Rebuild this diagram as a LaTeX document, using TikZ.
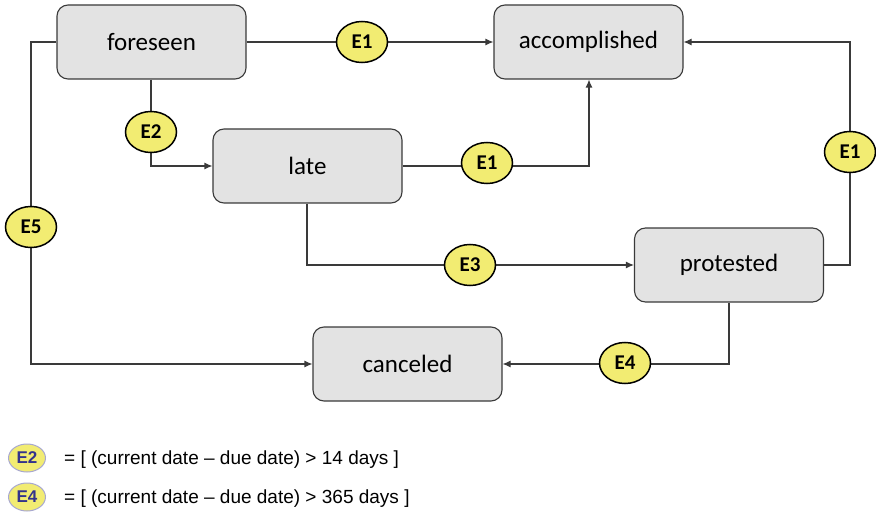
\documentclass[tikz,border=0pt]{standalone}
\usepackage{fontspec}
\setmainfont{Carlito}
\newfontfamily\legendfont{Liberation Sans}
\usetikzlibrary{arrows.meta,shapes.geometric}
\definecolor{boxfill}{HTML}{E3E3E3}
\definecolor{boxedge}{HTML}{3A3A3A}
\definecolor{evfill}{HTML}{F2EC72}
\definecolor{lgedge}{HTML}{A8A8D0}
\definecolor{lgtext}{HTML}{33338C}
\begin{document}
\begin{tikzpicture}[x=1pt,y=-1pt,
  state/.style={draw=boxedge,fill=boxfill,line width=1.1pt,rounded corners=11pt,
    minimum width=189pt,minimum height=74pt,inner sep=0pt,font=\fontsize{25}{27}\selectfont},
  event/.style={ellipse,draw=black,fill=evfill,line width=1.5pt,inner sep=0pt,
    minimum width=51pt,minimum height=41pt,font=\fontsize{21}{23}\selectfont\bfseries},
  legev/.style={ellipse,draw=lgedge,fill=evfill,line width=1pt,inner sep=0pt,
    minimum width=37pt,minimum height=28pt,text=lgtext,font=\legendfont\fontsize{17}{19}\selectfont\bfseries},
  legtxt/.style={anchor=west,inner sep=0pt,font=\legendfont\fontsize{19}{21}\selectfont},
  flow/.style={draw=boxedge,line width=1.1pt},
  arr/.style={flow,-{Latex[length=8pt,width=7pt]}}]
\useasboundingbox (0,0) rectangle (876,516);

% states
\node[state] (foreseen) at (151.5,42) {foreseen};
\node[state] (accomplished) at (588.5,42) {accomplished};
\node[state] (late) at (307.5,166) {late};
\node[state] (protested) at (729,265) {protested};
\node[state] (canceled) at (407.5,364) {canceled};

% corner points of the routed connectors
\coordinate (c1) at (151,166);
\coordinate (c2) at (589,166);
\coordinate (c3) at (307,265);
\coordinate (c4) at (850,265);
\coordinate (c5) at (850,42);
\coordinate (c6) at (729,364);
\coordinate (c7) at (31,42);
\coordinate (c8) at (31,364);

% transitions
\draw[arr] (foreseen.east) -- (accomplished.west);
\draw[arr] (foreseen.south -| c1) -- (c1) -- (late.west);
\draw[arr] (late.east) -- (c2) -- (accomplished.south -| c2);
\draw[arr] (late.south -| c3) -- (c3) -- (protested.west);
\draw[arr] (protested.east) -- (c4) -- (c5) -- (accomplished.east);
\draw[arr] (protested.south -| c6) -- (c6) -- (canceled.east);
\draw[arr] (foreseen.west) -- (c7) -- (c8) -- (canceled.west);

% event markers
\node[event] (e1a) at (362,42) {E1};
\node[event] (e2) at (151,132) {E2};
\node[event] (e1b) at (487,163) {E1};
\node[event] (e3) at (470,265) {E3};
\node[event] (e1c) at (850,152) {E1};
\node[event] (e4) at (625,363) {E4};
\node[event] (e5) at (31,227) {E5};

% legend
\node[legev] (l2) at (27,458) {E2};
\node[legtxt] (t2) at (64,460) {= [ (current date – due date) > 14 days ]};
\node[legev] (l4) at (27,497) {E4};
\node[legtxt] (t4) at (64,499) {= [ (current date – due date) > 365 days ]};
\end{tikzpicture}
\end{document}
